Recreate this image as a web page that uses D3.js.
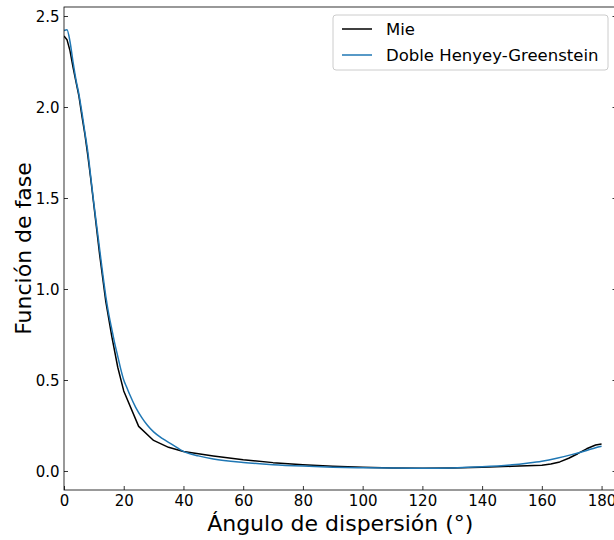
<!DOCTYPE html>
<html>
<head>
<meta charset="utf-8">
<script src="https://cdn.jsdelivr.net/npm/d3@7"></script>
<style>
  html, body { margin: 0; padding: 0; background: #fff; }
  svg { display: block; }
  text { font-family: "DejaVu Sans", sans-serif; fill: #000; }
</style>
</head>
<body>
<svg id="chart" width="614" height="540"></svg>
<script>
// Scattering angle (degrees) and phase function from Mie theory
const mieAngle = [0, 1, 2, 3, 4, 5, 6, 7, 8, 9, 10, 12, 14, 16, 18, 20, 25, 30, 35, 40, 45, 50,
  60, 70, 80, 90, 100, 110, 120, 130, 140, 150, 155, 160, 163, 166, 169, 172, 175, 178, 180];
const mieValue = [2.39, 2.37, 2.31, 2.22, 2.14, 2.06, 1.95, 1.85, 1.73, 1.60, 1.46, 1.18, 0.93, 0.74,
  0.57, 0.44, 0.245, 0.168, 0.13, 0.107, 0.095, 0.083, 0.062, 0.046, 0.035, 0.026, 0.020, 0.016,
  0.015, 0.016, 0.020, 0.026, 0.029, 0.032, 0.038, 0.050, 0.070, 0.095, 0.122, 0.143, 0.148];

// Double Henyey-Greenstein fit
const dhgAngle = [0, 1, 2, 3, 4, 5, 6, 7, 8, 9, 10, 11, 12, 13, 14, 15, 16, 17, 18, 19, 20, 21, 22,
  24, 26, 28, 30, 33, 36, 40, 45, 50, 60, 70, 80, 90, 100, 110, 120, 130, 140, 150, 155, 160,
  165, 170, 175, 178, 180];
const dhgValue = [2.42, 2.425, 2.36, 2.25, 2.15, 2.07, 1.97, 1.86, 1.75, 1.61, 1.47, 1.34, 1.21,
  1.08, 0.96, 0.86, 0.78, 0.70, 0.63, 0.56, 0.50, 0.46, 0.42, 0.35, 0.295, 0.25, 0.215, 0.178,
  0.148, 0.108, 0.083, 0.066, 0.047, 0.035, 0.027, 0.021, 0.018, 0.016, 0.015, 0.017, 0.023,
  0.034, 0.043, 0.054, 0.070, 0.090, 0.113, 0.128, 0.136];

const xTicks = [0, 20, 40, 60, 80, 100, 120, 140, 160, 180];
const yTicks = [0.0, 0.5, 1.0, 1.5, 2.0, 2.5];

const seriesNames = ["Mie", "Doble Henyey-Greenstein"];
const seriesColors = ["#000000", "#1f77b4"];

const xLabel = "Ángulo de dispersión (°)";
const yLabel = "Función de fase";

const svg = d3.select("#chart");
const box = { left: 64, right: 616.5, top: 7, bottom: 490 };

const x = d3.scaleLinear().domain([0, 185]).range([box.left, box.right]);
const y = d3.scaleLinear().domain([-0.1044, 2.5495]).range([box.bottom, box.top]);

// Curves, clipped to the axes box
svg.append("clipPath").attr("id", "plotArea")
  .append("rect").attr("x", box.left).attr("y", box.top)
  .attr("width", box.right - box.left).attr("height", box.bottom - box.top);

const plot = svg.append("g").attr("clip-path", "url(#plotArea)");

const mieData = d3.zip(mieAngle, mieValue);
const dhgData = d3.zip(dhgAngle, dhgValue);

plot.append("path").datum(mieData)
  .attr("d", d3.line().x(d => x(d[0])).y(d => y(d[1])).curve(d3.curveLinear))
  .attr("fill", "none").attr("stroke", seriesColors[0])
  .attr("stroke-width", 1.5).attr("stroke-linejoin", "round");

plot.append("path").datum(dhgData)
  .attr("d", d3.line().x(d => x(d[0])).y(d => y(d[1])).curve(d3.curveMonotoneX))
  .attr("fill", "none").attr("stroke", seriesColors[1])
  .attr("stroke-width", 1.5).attr("stroke-linejoin", "round");

// Axes with inward ticks
const tickLen = 4;
const fmtY = d3.format(".1f");

const xAxis = svg.append("g").attr("transform", `translate(0,${box.bottom})`)
  .call(d3.axisBottom(x).tickValues(xTicks).tickSizeInner(-tickLen).tickSizeOuter(0)
    .tickPadding(0).tickFormat(d3.format("d")));
xAxis.select(".domain").remove();
xAxis.selectAll("line").attr("stroke", "#000").attr("stroke-width", 0.8);
xAxis.selectAll("text").attr("font-size", 15).attr("y", 16).attr("dy", 0)
  .attr("fill", "#000").style("font-family", "DejaVu Sans");

const yAxis = svg.append("g").attr("transform", `translate(${box.left},0)`)
  .call(d3.axisLeft(y).tickValues(yTicks).tickSizeInner(-tickLen).tickSizeOuter(0)
    .tickPadding(0).tickFormat(fmtY));
yAxis.select(".domain").remove();
yAxis.selectAll("line").attr("stroke", "#000").attr("stroke-width", 0.8);
yAxis.selectAll("text").attr("font-size", 15).attr("x", -4.5).attr("dy", "0.36em")
  .attr("fill", "#000").style("font-family", "DejaVu Sans");

const yAxisR = svg.append("g").attr("transform", `translate(${box.right},0)`)
  .call(d3.axisRight(y).tickValues(yTicks).tickSizeInner(-tickLen).tickSizeOuter(0)
    .tickFormat(""));
yAxisR.select(".domain").remove();
yAxisR.selectAll("line").attr("stroke", "#000").attr("stroke-width", 0.8);

// Frame
svg.append("rect").attr("x", box.left).attr("y", box.top)
  .attr("width", box.right - box.left).attr("height", box.bottom - box.top)
  .attr("fill", "none").attr("stroke", "#000").attr("stroke-width", 0.8);

// Axis titles
svg.append("text").attr("x", (box.left + box.right) / 2).attr("y", 531)
  .attr("text-anchor", "middle").attr("font-size", 22).text(xLabel);

svg.append("text")
  .attr("transform", `translate(31,${(box.top + box.bottom) / 2}) rotate(-90)`)
  .attr("text-anchor", "middle").attr("font-size", 22).text(yLabel);

// Legend
const lg = svg.append("g");
lg.append("rect").attr("x", 333).attr("y", 15).attr("width", 275).attr("height", 55)
  .attr("rx", 3).attr("fill", "#fff").attr("fill-opacity", 0.8)
  .attr("stroke", "#cccccc").attr("stroke-width", 1);

seriesNames.forEach((name, i) => {
  const cy = 29 + i * 26;
  lg.append("line").attr("x1", 342).attr("x2", 372).attr("y1", cy).attr("y2", cy)
    .attr("stroke", seriesColors[i]).attr("stroke-width", 1.5);
  lg.append("text").attr("x", 386).attr("y", cy).attr("dy", "0.36em")
    .attr("font-size", 16.5).text(name);
});
</script>
</body>
</html>
